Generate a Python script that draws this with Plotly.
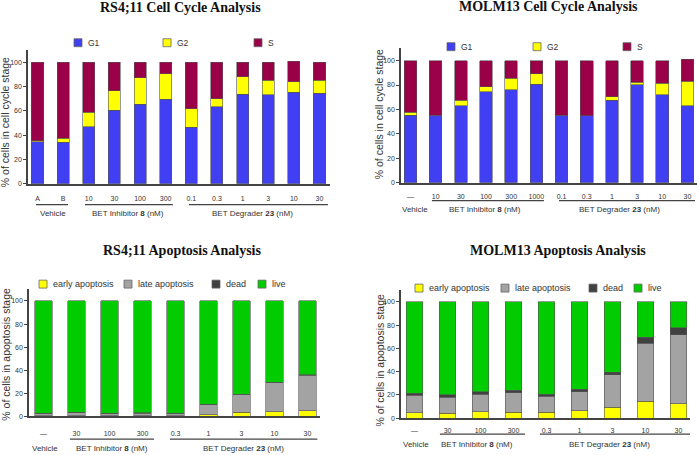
import plotly.graph_objects as go

# ---- data ----
# RS4;11 cell cycle
rs_cc_labels = ["A", "B", "10", "30", "100", "300", "0.1", "0.3", "1", "3", "10", "30"]
rs_cc_g1 = [34.6, 34.0, 46.8, 60.3, 65.4, 69.5, 46.5, 63.2, 73.5, 73.2, 75.1, 74.6]
rs_cc_g2 = [0.6, 3.3, 12.1, 16.2, 21.9, 20.8, 15.1, 6.8, 14.3, 11.9, 8.7, 10.5]
rs_cc_s = [64.8, 62.7, 41.1, 23.5, 12.7, 9.7, 38.4, 30.0, 12.2, 14.9, 17.0, 14.9]

# MOLM13 cell cycle
molm_cc_labels = ["—", "10", "30", "100", "300", "1000", "0.1", "0.3", "1", "3", "10", "30"]
molm_cc_g1 = [55.4, 55.1, 63.0, 74.3, 76.2, 80.8, 55.4, 54.9, 67.6, 80.3, 71.9, 63.0]
molm_cc_g2 = [2.2, 0.0, 4.6, 4.3, 9.5, 8.4, 0.0, 0.0, 2.7, 1.9, 9.7, 20.0]
molm_cc_s = [42.4, 44.9, 32.4, 21.4, 14.3, 10.8, 44.6, 45.1, 29.7, 17.8, 18.4, 18.0]

# RS4;11 apoptosis
rs_ap_labels = ["—", "30", "100", "300", "0.3", "1", "3", "10", "30"]
rs_ap_early = [0.3, 0.5, 0.5, 0.5, 0.4, 1.4, 3.4, 4.0, 4.6]
rs_ap_late = [1.7, 2.5, 1.8, 2.0, 1.9, 8.6, 15.5, 25.0, 31.1]
rs_ap_dead = [0.6, 0.5, 0.5, 0.5, 0.5, 0.3, 0.3, 0.3, 0.3]
rs_ap_live = [97.4, 96.5, 97.2, 97.0, 97.2, 89.7, 80.8, 70.7, 64.0]

# MOLM13 apoptosis
molm_ap_labels = ["—", "30", "100", "300", "0.3", "1", "3", "10", "30"]
molm_ap_early = [4.8, 4.3, 5.7, 5.1, 5.1, 6.3, 9.4, 14.5, 12.5]
molm_ap_late = [14.9, 13.9, 15.1, 16.8, 14.0, 16.5, 27.9, 50.2, 59.3]
molm_ap_dead = [2.0, 2.0, 2.0, 2.0, 1.7, 2.0, 2.3, 4.8, 6.2]
molm_ap_live = [78.3, 79.8, 77.2, 76.1, 79.2, 75.2, 60.4, 30.5, 22.0]

y_ticks = [0, 20, 40, 60, 80, 100]

W, H = 697, 455
BLUE, YELLOW, MAROON = "#4040f2", "#ffff00", "#990047"
GREEN, GREY, DARK = "#00cc00", "#a3a3a3", "#404040"
SANS = "Liberation Sans, Arial, sans-serif"


def px(x):
    return x / W


def py(y):
    return 1 - y / H


fig = go.Figure()

# panel settings: axis suffix, x domain (px), y bottom/top (px), x range
panels = [
    dict(n="", xd=(28, 330), yd=(185, 50.3), xr=(-0.37, 11.41), width=0.47, so=7),
    dict(n="2", xd=(401, 697), yd=(184, 48.7), xr=(-0.377, 11.38), width=0.5, so=6),
    dict(n="3", xd=(29, 320), yd=(419, 291.4), xr=(-0.44, 8.38), width=0.52, so=10),
    dict(n="4", xd=(401, 690), yd=(421, 292.3), xr=(-0.41, 8.35), width=0.51, so=5),
]

series = [
    (rs_cc_labels, [("G1", rs_cc_g1, BLUE), ("G2", rs_cc_g2, YELLOW), ("S", rs_cc_s, MAROON)]),
    (molm_cc_labels, [("G1", molm_cc_g1, BLUE), ("G2", molm_cc_g2, YELLOW), ("S", molm_cc_s, MAROON)]),
    (rs_ap_labels, [("early apoptosis", rs_ap_early, YELLOW), ("late apoptosis", rs_ap_late, GREY),
                    ("dead", rs_ap_dead, DARK), ("live", rs_ap_live, GREEN)]),
    (molm_ap_labels, [("early apoptosis", molm_ap_early, YELLOW), ("late apoptosis", molm_ap_late, GREY),
                      ("dead", molm_ap_dead, DARK), ("live", molm_ap_live, GREEN)]),
]

for p, (labels, stack) in zip(panels, series):
    xs = list(range(len(labels)))
    for name, vals, col in stack:
        fig.add_trace(go.Bar(
            x=xs, y=vals, name=name, width=p["width"],
            marker=dict(color=col, line=dict(color="#555555", width=0.6)),
            xaxis="x" + p["n"], yaxis="y" + p["n"], showlegend=False,
        ))
    fig.layout["xaxis" + p["n"]] = dict(
        domain=[px(p["xd"][0]), px(p["xd"][1])], range=list(p["xr"]),
        anchor="y" + p["n"], tickvals=xs, ticktext=labels, ticks="",
        ticklabelstandoff=p["so"], showgrid=False, zeroline=False,
        showline=True, linecolor="#444", linewidth=1.5,
        tickfont=dict(family=SANS, size=7, color="#333"),
    )
    fig.layout["yaxis" + p["n"]] = dict(
        domain=[py(p["yd"][0]), py(p["yd"][1])], range=[0, 110],
        anchor="x" + p["n"], tickvals=y_ticks, ticks="outside", ticklen=3,
        tickcolor="#444", showgrid=False, zeroline=False,
        showline=True, linecolor="#444", linewidth=1.5,
        tickfont=dict(family=SANS, size=7, color="#333"),
    )

fig.update_layout(barmode="stack", width=W, height=H,
                  margin=dict(l=0, r=0, t=0, b=0),
                  plot_bgcolor="white", paper_bgcolor="white")

# titles
titles = [("RS4;11 Cell Cycle Analysis", 180, 8), ("MOLM13 Cell Cycle Analysis", 548, 7),
          ("RS4;11 Apoptosis Analysis", 182, 252), ("MOLM13 Apoptosis Analysis", 558, 252)]
for t, x, y in titles:
    fig.add_annotation(text="<b>%s</b>" % t, x=px(x), y=py(y), xref="paper", yref="paper",
                       showarrow=False, xanchor="center", yanchor="middle",
                       font=dict(family="Liberation Serif, Times New Roman, serif", size=14, color="#111"))

# y-axis titles
ytitles = [("% of cells in cell cycle stage", 5, 123), ("% of cells in cell cycle stage", 379, 115),
           ("% of cells in apoptosis stage", 6, 357), ("% of cells in apoptosis stage", 380, 363)]
for t, x, y in ytitles:
    fig.add_annotation(text=t, x=px(x), y=py(y), xref="paper", yref="paper", textangle=-90,
                       showarrow=False, xanchor="center", yanchor="middle",
                       font=dict(family=SANS, size=10.5, color="#333"))

# legends (drawn by hand to match spacing)
legends = [
    [("G1", BLUE, 74, 39), ("G2", YELLOW, 163, 39), ("S", MAROON, 254, 39)],
    [("G1", BLUE, 447, 43), ("G2", YELLOW, 533, 43), ("S", MAROON, 623, 43)],
    [("early apoptosis", YELLOW, 39, 282), ("late apoptosis", GREY, 124, 282),
     ("dead", DARK, 212, 282), ("live", GREEN, 258, 282)],
    [("early apoptosis", YELLOW, 415, 286), ("late apoptosis", GREY, 501, 286),
     ("dead", DARK, 589, 286), ("live", GREEN, 634, 286)],
]
for i, leg in enumerate(legends):
    fs = 8.5 if i < 2 else 9
    for name, col, x, y in leg:
        fig.add_shape(type="rect", xref="paper", yref="paper",
                      x0=px(x), x1=px(x + 8), y0=py(y + 8), y1=py(y),
                      fillcolor=col, line=dict(color="#666", width=0.8))
        fig.add_annotation(text=name, x=px(x + 12), y=py(y + 4), xref="paper", yref="paper",
                           showarrow=False, xanchor="left", yanchor="middle",
                           font=dict(family=SANS, size=fs, color="#333"))

# group brackets under the x axes: (axis, start, end, line y, label x, label y, text)
groups = [
    ("x", -0.06, 1.19, 206, 0.6, 215, "Vehicle"),
    ("x", 1.85, 5.28, 206, 3.53, 215, "BET Inhibitor <b>8</b> (nM)"),
    ("x", 5.91, 11.33, 206, 8.4, 215, "BET Degrader <b>23</b> (nM)"),
    ("x2", None, None, 202, 0.18, 211, "Vehicle"),
    ("x2", 0.85, 5.3, 202, 2.97, 211, "BET Inhibitor <b>8</b> (nM)"),
    ("x2", 5.9, 11.3, 202, 8.32, 211, "BET Degrader <b>23</b> (nM)"),
    ("x3", None, None, 442, 0.05, 451, "Vehicle"),
    ("x3", 0.8, 3.35, 442, 2.08, 451, "BET Inhibitor <b>8</b> (nM)"),
    ("x3", 3.83, 8.3, 442, 6.05, 451, "BET Degrader <b>23</b> (nM)"),
    ("x4", None, None, 437, 0.05, 447, "Vehicle"),
    ("x4", 0.77, 3.35, 437, 1.89, 447, "BET Inhibitor <b>8</b> (nM)"),
    ("x4", 3.8, 8.35, 437, 5.9, 447, "BET Degrader <b>23</b> (nM)"),
]
for ax, a, b, ly, lx, ty, text in groups:
    if a is not None:
        fig.add_shape(type="line", xref=ax, yref="paper", x0=a, x1=b, y0=py(ly), y1=py(ly),
                      line=dict(color="#444", width=1.2))
    fig.add_annotation(text=text, x=lx, y=py(ty), xref=ax, yref="paper", showarrow=False,
                       xanchor="center", yanchor="middle",
                       font=dict(family=SANS, size=8, color="#333"))

# the page's default body margin would push the 697x455 figure off the window
fig.write_html("out.html", config={"displayModeBar": False},
               post_script="document.body.style.margin='0';")
